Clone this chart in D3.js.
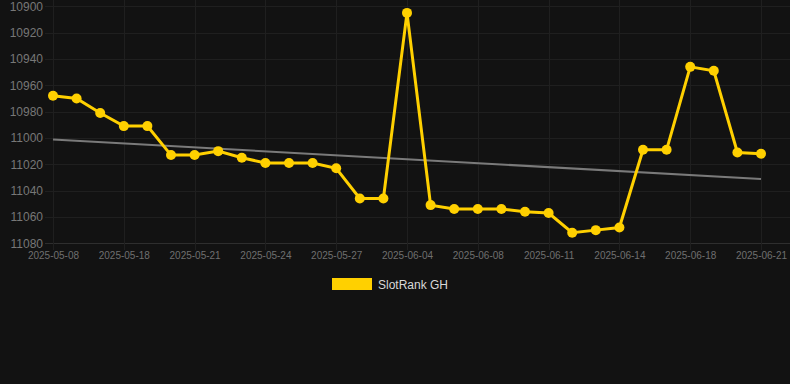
<html>
<head>
<script src="https://d3js.org/d3.v7.min.js"></script>
<style>
body { margin: 0; background: #121212; font-family: "Liberation Sans", Arial, sans-serif; }
svg { display: block; }
</style>
</head>
<body>
<div id="chart"></div>
<script>

var width = 790;
var height = 384;

// dates on the category axis (only every third is labelled)
var dates = ["2025-05-08","2025-05-12","2025-05-15","2025-05-18","2025-05-19","2025-05-20",
	"2025-05-21","2025-05-22","2025-05-23","2025-05-24","2025-05-25","2025-05-26",
	"2025-05-27","2025-05-28","2025-06-01","2025-06-04","2025-06-05","2025-06-07",
	"2025-06-08","2025-06-09","2025-06-10","2025-06-11","2025-06-12","2025-06-13",
	"2025-06-14","2025-06-15","2025-06-17","2025-06-18","2025-06-19","2025-06-20","2025-06-21"];
var ranks = [10968,10970,10981,10991,10991,11013,11013,11010,11015,11019,11019,11019,
	11023,11046,11046,10905,11051,11054,11054,11054,11056,11057,11072,11070,
	11068,11009,11009,10946,10949,11011,11012];
var yTicks = [10900,10920,10940,10960,10980,11000,11020,11040,11060,11080];
var seriesName = "SlotRank GH";

var yellow = "#ffd000";

var svg = d3.select("#chart").append("svg")
.attr("width", width).attr("height", height);

var xScale = d3.scalePoint().domain(dates).range([53, 761]);
var yScale = d3.scaleLinear().domain([10900, 11080]).range([6.3, 243.3]);

var labelled = dates.filter(function (d, i) { return i % 3 === 0; });

// grid
svg.append("g").selectAll("line").data(yTicks).enter().append("line")
.attr("x1", 45).attr("x2", width)
.attr("y1", function (d) { return Math.round(yScale(d)) + 0.5; })
.attr("y2", function (d) { return Math.round(yScale(d)) + 0.5; })
.style("stroke", function (d) { return d === 11080 ? "#2e2e2e" : "#1f1f1f"; });

svg.append("g").selectAll("line").data(labelled).enter().append("line")
.attr("x1", function (d) { return Math.round(xScale(d)) + 0.5; })
.attr("x2", function (d) { return Math.round(xScale(d)) + 0.5; })
.attr("y1", 0).attr("y2", 250)
.style("stroke", "#1f1f1f");

// axes
var yAxis = d3.axisLeft(yScale).tickValues(yTicks).tickSize(0).tickPadding(0).tickFormat(d3.format("d"));
svg.append("g").attr("transform", "translate(43,0)").call(yAxis)
.call(function (g) { g.select(".domain").remove(); })
.selectAll("text").style("fill", "#777").style("font-size", "12px")
.style("font-family", "Liberation Sans, Arial, sans-serif");

var xAxis = d3.axisBottom(xScale).tickValues(labelled).tickSize(0).tickPadding(0);
svg.append("g").attr("transform", "translate(0,252)").call(xAxis)
.call(function (g) { g.select(".domain").remove(); })
.selectAll("text").style("fill", "#6f6f6f").style("font-size", "10px")
.style("font-family", "Liberation Sans, Arial, sans-serif");

// linear trend (least squares over the category index)
var n = ranks.length;
var meanX = (n - 1) / 2;
var meanY = d3.mean(ranks);
var sxy = d3.sum(ranks, function (v, i) { return (i - meanX) * (v - meanY); });
var sxx = d3.sum(ranks, function (v, i) { return (i - meanX) * (i - meanX); });
var slope = sxy / sxx;
var trend = [0, n - 1].map(function (i) { return { i: i, v: meanY + slope * (i - meanX) }; });

svg.append("path").datum(trend)
.attr("d", d3.line()
	.x(function (d) { return xScale(dates[d.i]); })
	.y(function (d) { return yScale(d.v); }))
.style("fill", "none").style("stroke", "#7a7a7a").style("stroke-width", 2);

// series
var line = d3.line()
.x(function (d, i) { return xScale(dates[i]); })
.y(function (d) { return yScale(d); });

svg.append("path").datum(ranks)
.attr("d", line)
.style("fill", "none").style("stroke", yellow).style("stroke-width", 3)
.style("stroke-linejoin", "miter");

svg.append("g").selectAll("circle").data(ranks).enter().append("circle")
.attr("cx", function (d, i) { return xScale(dates[i]); })
.attr("cy", function (d) { return yScale(d); })
.attr("r", 5)
.style("fill", yellow);

// legend
var legend = svg.append("g").attr("transform", "translate(332,278)");
legend.append("rect").attr("width", 40).attr("height", 12).style("fill", yellow);
legend.append("text").attr("x", 46).attr("y", 10.5).text(seriesName)
.style("fill", "#d8d8d8").style("font-size", "12px");

</script>
</body>
</html>
